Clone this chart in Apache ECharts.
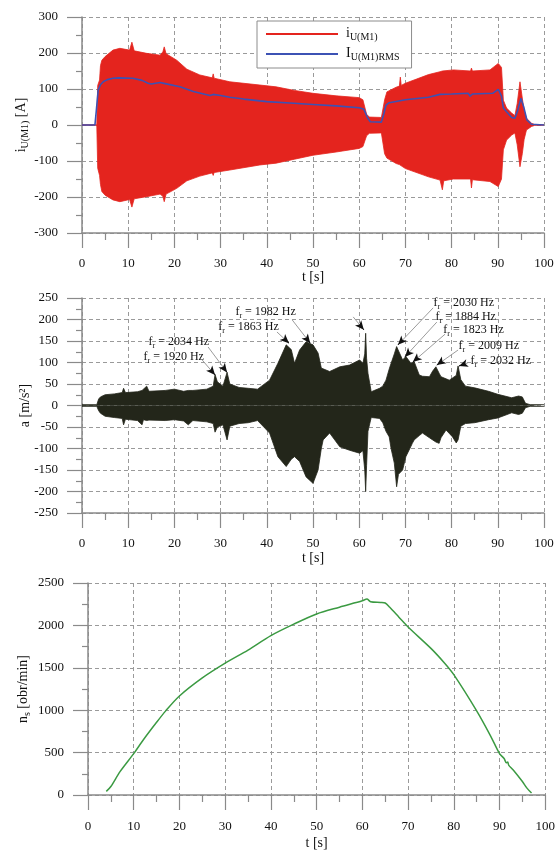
<!DOCTYPE html>
<html><head><meta charset="utf-8">
<script src="https://cdn.jsdelivr.net/npm/echarts@6/dist/echarts.min.js"></script>
<style>html,body{margin:0;padding:0;background:#fff}#c{width:558px;height:851px}</style>
</head><body><div id="c"></div>
<script>
// ---------- top: phase current i_U(M1) envelope and RMS ----------
const tI     = [0, 3.2, 3.4, 3.8, 4.0, 4.3, 5, 6.7, 8.2, 10.3, 10.8, 11.3, 14, 16.9, 17.5, 17.8, 18.2, 20.5, 22.7, 25.5, 28.2, 28.4, 28.6, 32, 38.5, 42, 46, 50, 55, 60, 60.8, 61.6, 62.2, 64.8, 65.5, 66, 68, 68.7, 68.9, 69.1, 70, 75, 77.5, 78, 78.3, 80.4, 84.1, 84.3, 84.5, 88.3, 90.1, 90.8, 91.2, 91.9, 93, 93.7, 94.2, 94.8, 95.3, 95.7, 96.2, 97.3, 98, 100];
const iUpper = [1, 1, 110, 125, 165, 180, 190, 208, 213, 208, 230, 206, 199, 194, 203, 217, 198, 180, 155, 139, 131, 142, 130, 120, 111, 106, 96, 88, 81, 76, 70, 30, 22, 21, 70, 92, 105, 108, 133, 110, 116, 140, 148, 150, 150, 153, 150, 158, 150, 153, 171, 160, 69, 47, 33, 26, 60, 120, 75, 40, 19, 5, 1, 1];
const iLower = [-1, -1, -120, -140, -165, -185, -195, -208, -213, -207, -228, -205, -199, -192, -198, -213, -192, -176, -155, -142, -133, -140, -132, -125, -111, -106, -95, -84, -75, -65, -60, -30, -23, -22, -80, -92, -107, -110, -112, -112, -121, -144, -153, -180, -155, -150, -150, -175, -152, -157, -171, -150, -69, -42, -28, -22, -55, -116, -80, -40, -14, -4, -1, -1];
const tRms   = [0, 2.8, 3.1, 3.5, 4.0, 4.6, 5.5, 6.7, 8, 11, 13, 14.3, 15, 16.9, 18, 21.2, 24.1, 27.7, 28.4, 30, 32, 35, 38.5, 40, 45, 50, 55, 60, 61, 61.8, 62.4, 64.8, 65.3, 65.8, 66.5, 70, 75, 77.5, 80, 83.6, 84, 84.5, 88.9, 90.1, 90.8, 91.2, 91.9, 93, 93.7, 94.3, 95, 95.6, 96.3, 97.3, 97.7, 100];
const iRms   = [0, 0, 40, 97, 112, 120, 126, 130, 131, 130, 124, 116, 114, 118, 115, 106, 93, 82, 85, 82, 77, 72, 67, 65, 61, 57, 53, 48, 44, 20, 9, 8, 30, 55, 62, 70, 77, 85, 86, 88, 80, 86, 88, 99, 80, 47, 37, 21, 19, 40, 74, 51, 14, 2, 0, 0];

// ---------- middle: vibration acceleration envelope ----------
const tA     = [0, 3.2, 3.6, 4.0, 5, 7, 8.7, 9, 9.4, 12, 13, 13.3, 14, 14.5, 18, 20, 22, 23, 24, 27, 28.4, 28.8, 29.3, 30.5, 31.4, 32, 34, 36, 38, 40.6, 42.4, 44.2, 45.3, 46, 47.1, 48.5, 50, 51.1, 51.8, 52.2, 53.6, 55.8, 57.9, 60.1, 60.8, 61.2, 61.4, 61.6, 61.9, 62.6, 64.4, 65.1, 65.8, 66.5, 66.9, 67.6, 68.1, 68.5, 69.4, 70.1, 71.2, 71.5, 71.9, 73, 73.7, 75.2, 75.9, 76.6, 77.3, 77.7, 78.8, 79.5, 80.2, 81.0, 81.4, 82, 83, 85, 88, 90, 93, 94.5, 95.3, 96, 97, 100];
const aUpper = [2, 2, 15, 20, 25, 27, 30, 40, 30, 32, 35, 35, 45, 33, 35, 38, 33, 35, 35, 38, 45, 72, 55, 45, 77, 50, 42, 40, 38, 59, 98, 141, 130, 98, 129, 148, 141, 122, 87, 85, 79, 90, 94, 106, 98, 120, 168, 110, 75, 32, 40, 45, 59, 85, 98, 120, 137, 140, 106, 114, 98, 100, 102, 71, 68, 67, 80, 90, 75, 67, 62, 59, 64, 70, 92, 60, 45, 41, 33, 26, 18, 22, 20, 5, 2, 2];
const aLower = [-2, -2, -12, -18, -25, -28, -30, -45, -32, -35, -45, -33, -35, -34, -35, -33, -36, -45, -35, -38, -42, -62, -50, -45, -80, -48, -42, -40, -35, -64, -119, -142, -125, -119, -130, -166, -181, -150, -100, -80, -64, -96, -104, -111, -105, -150, -200, -140, -60, -28, -30, -40, -60, -73, -100, -134, -189, -160, -150, -119, -95, -88, -80, -70, -64, -75, -80, -85, -88, -75, -57, -65, -73, -87, -80, -48, -42, -40, -33, -29, -17, -21, -18, -5, -2, -2];

// resonance annotations: frequency, label anchor (t, a), arrow start (t, a), arrow tip (t, a)
const annoFreq   = ['2034', '1920', '1982', '1863', '', '2030', '1884', '1823', '2009', '2032'];
const annoLabelT = [14.3, 13.2, 33.1, 29.4, null, 76.0, 76.4, 78.1, 81.4, 84.0];
const annoLabelA = [145, 110, 215, 180, null, 236, 204, 173, 136, 101];
const annoFromT  = [27.3, 26.0, 45.5, 42.2, 58.7, 76.0, 76.8, 78.6, 81.4, 83.5];
const annoFromA  = [136, 106, 199, 171, 206, 227, 194, 166, 129, 99];
const annoTipT   = [31.4, 28.8, 49.4, 44.8, 61.0, 68.4, 69.9, 71.6, 76.8, 81.6];
const annoTipA   = [77, 71, 145, 145, 176, 141, 113, 101, 94, 92];

// ---------- bottom: rotor speed ----------
const tN = [4, 5, 7, 10, 12, 15, 17, 20, 25, 30, 35, 40, 45, 50, 55, 60, 61, 61.8, 64, 65, 66, 68, 70, 75, 78, 80, 85, 88, 90, 91, 91.5, 91.8, 92, 93, 95, 96, 97];
const nS = [43, 100, 275, 488, 643, 857, 992, 1167, 1380, 1554, 1709, 1880, 2015, 2135, 2215, 2290, 2310, 2280, 2271, 2264, 2213, 2097, 1981, 1729, 1554, 1419, 992, 701, 488, 430, 380, 390, 353, 295, 159, 81, 23];

const xMin = 0, xMax = 100, xStep = 10;
const yTop = [-300, 300, 100], yMid = [-250, 250, 50], yBot = [0, 2500, 500];

const FF = "'Liberation Serif','DejaVu Serif',serif";
const RED = '#e4241e', BLUE = '#3c52b4', DARK = '#23261a', GREEN = '#3b9a42';
const AX = '#8a8a8a';

function zip(a, b) { return a.map((v, i) => [v, b[i]]); }
function rich(big, small, drop) {
  return {
    m: { fontSize: big, fontFamily: FF, color: '#111', lineHeight: big + 2, verticalAlign: 'top' },
    s: { fontSize: small, fontFamily: FF, color: '#111', lineHeight: drop, verticalAlign: 'bottom' }
  };
}
function xAxis(gi, margin, gap) {
  return {
    type: 'value', gridIndex: gi, min: xMin, max: xMax, interval: xStep,
    name: 't [s]', nameLocation: 'middle', nameGap: gap, nameMoveOverlap: false,
    nameTextStyle: { fontFamily: FF, fontSize: 14, color: '#111' },
    axisLine: { show: true, onZero: false, lineStyle: { color: AX, width: 1.5 } },
    axisTick: { show: true, length: 15, lineStyle: { color: AX, width: 1.2 } },
    minorTick: { show: true, splitNumber: 2, length: 7, lineStyle: { color: AX, width: 1.2 } },
    axisLabel: { margin: margin, fontFamily: FF, fontSize: 13, color: '#111' },
    splitLine: { show: true, lineStyle: { color: '#9a9a9a', type: [4, 3], width: 1 } }
  };
}
function yAxis(gi, r, name, nameRich, gap) {
  return {
    type: 'value', gridIndex: gi, min: r[0], max: r[1], interval: r[2],
    name: name, nameLocation: 'middle', nameGap: gap, nameRotate: 90, nameMoveOverlap: false,
    nameTextStyle: Object.assign({ fontFamily: FF, fontSize: 14, color: '#111' }, nameRich ? { rich: nameRich } : {}),
    axisLine: { show: true, onZero: false, lineStyle: { color: AX, width: 1.5 } },
    axisTick: { show: true, length: 15, lineStyle: { color: AX, width: 1.2 } },
    minorTick: { show: true, splitNumber: 2, length: 6, lineStyle: { color: AX, width: 1.2 } },
    axisLabel: { margin: 24, fontFamily: FF, fontSize: 13, color: '#111', formatter: v => String(v) },
    splitLine: { show: true, lineStyle: { color: '#9a9a9a', type: [4, 3], width: 1 } }
  };
}
function band(name, gi, t, v, color, z) {
  return {
    type: 'line', name: name, xAxisIndex: gi, yAxisIndex: gi, data: zip(t, v),
    showSymbol: false, symbol: 'none', smooth: false, z: z,
    lineStyle: { color: color, width: 0.8 }, itemStyle: { color: color },
    areaStyle: { color: color, opacity: 1 }, emphasis: { disabled: true }
  };
}

// annotation marks built from the annotation arrays
const annoRich = rich(12, 8, 5);
const greyLines = [], heads = [], labels = [];
annoFreq.forEach((f, i) => {
  const from = [annoFromT[i], annoFromA[i]], tip = [annoTipT[i], annoTipA[i]];
  greyLines.push([{ coord: from }, { coord: tip }]);
  const k = 0.12;
  const near = [tip[0] + k * (from[0] - tip[0]), tip[1] + k * (from[1] - tip[1])];
  heads.push([{ coord: near, symbol: 'none' }, { coord: tip, symbol: 'arrow' }]);
  if (f) labels.push({
    coord: [annoLabelT[i], annoLabelA[i]], symbol: 'circle', symbolSize: 1,
    itemStyle: { color: 'rgba(0,0,0,0)' },
    label: { show: true, position: 'right', distance: 0, formatter: '{m|f}{s|r}{m| = ' + f + ' Hz}', rich: annoRich }
  });
});

const aUpSeries = band('aU', 1, tA, aUpper, DARK, 2);
aUpSeries.markLine = {
  silent: true, animation: false, symbol: ['none', 'none'],
  lineStyle: { color: '#9c9c9c', width: 1, type: 'solid' },
  label: { show: false }, emphasis: { disabled: true }, data: greyLines
};
aUpSeries.markPoint = { silent: true, animation: false, data: labels };
const aLoSeries = band('aL', 1, tA, aLower, DARK, 2);
aLoSeries.markLine = {
  silent: true, animation: false, symbol: ['none', 'arrow'], symbolSize: [6, 9],
  lineStyle: { color: '#111', width: 1, type: 'solid' },
  label: { show: false }, emphasis: { disabled: true }, data: heads
};

const legRich = rich(14, 10, 6);
const chart = echarts.init(document.getElementById('c'), null, { renderer: 'canvas' });
chart.setOption({
  animation: false,
  backgroundColor: '#fff',
  grid: [
    { left: 82, top: 17, width: 462, height: 216 },
    { left: 82, top: 298, width: 462, height: 215 },
    { left: 88, top: 583, width: 459, height: 216 }
  ],
  legend: {
    data: ['iU', 'iRMS'], orient: 'vertical', left: 257, top: 21,
    padding: [5, 12, 6, 9], itemGap: 4, itemWidth: 72, itemHeight: 2, icon: 'rect',
    backgroundColor: '#fff', borderColor: '#8c8c8c', borderWidth: 1,
    selectedMode: false, z: 10,
    formatter: n => n === 'iU' ? '{m|i}{s|U(M1)}' : '{m|I}{s|U(M1)RMS}',
    textStyle: { rich: legRich, padding: [0, 0, 0, 3] }
  },
  xAxis: [xAxis(0, 24, 37), xAxis(1, 24, 38), xAxis(2, 25, 41)],
  yAxis: [
    yAxis(0, yTop, '{m|i}{s|U(M1)}{m| [A]}', rich(14, 10, 6), 52),
    yAxis(1, yMid, 'a [m/s²]', null, 50),
    yAxis(2, yBot, '{m|n}{s|s}{m| [obr/min]}', rich(14, 10, 6), 56)
  ],
  series: [
    band('iU', 0, tI, iUpper, RED, 2),
    band('iU', 0, tI, iLower, RED, 2),
    {
      type: 'line', name: 'iRMS', xAxisIndex: 0, yAxisIndex: 0, data: zip(tRms, iRms),
      showSymbol: false, symbol: 'none', z: 3, lineStyle: { color: BLUE, width: 1.6 },
      itemStyle: { color: BLUE }, emphasis: { disabled: true }
    },
    aUpSeries, aLoSeries,
    {
      type: 'line', name: 'nS', xAxisIndex: 2, yAxisIndex: 2, data: zip(tN, nS),
      showSymbol: false, symbol: 'none', smooth: 0.3, z: 3,
      lineStyle: { color: GREEN, width: 1.5 }, itemStyle: { color: GREEN }, emphasis: { disabled: true }
    }
  ]
});
</script></body></html>
